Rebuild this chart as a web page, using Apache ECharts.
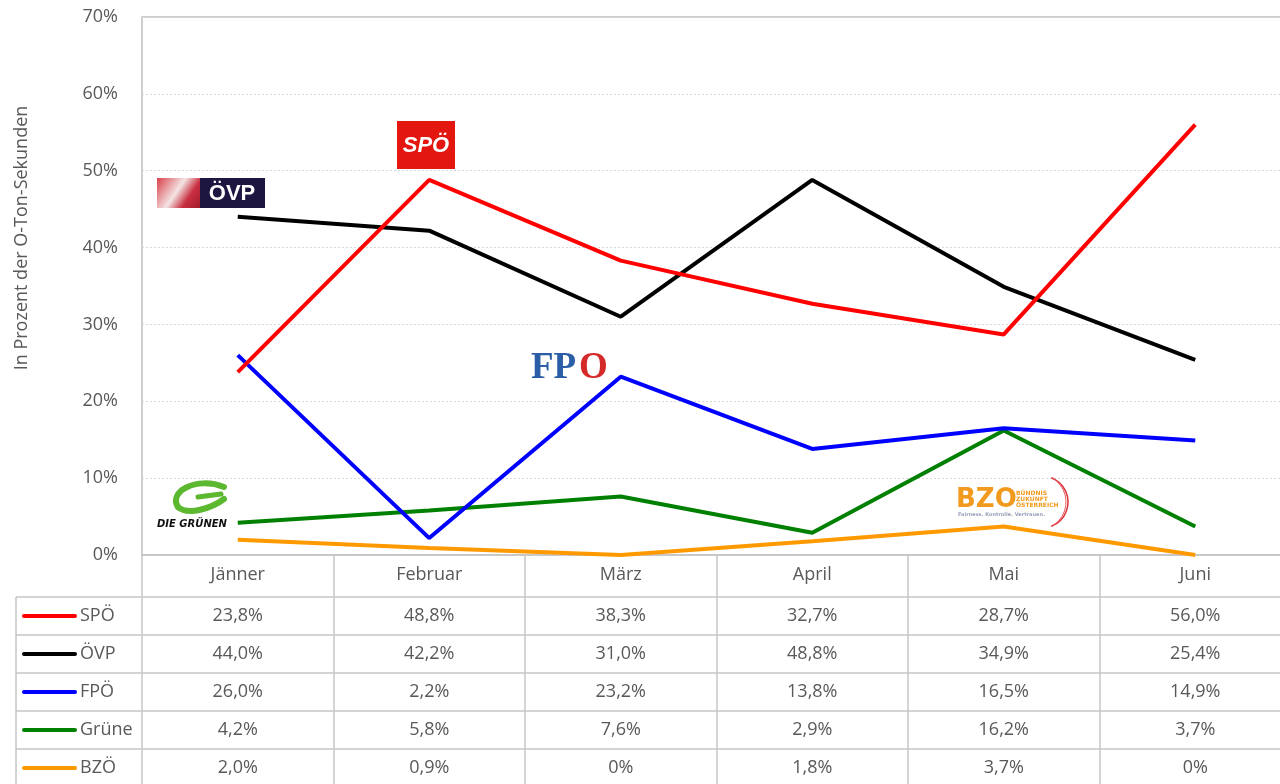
<!DOCTYPE html>
<html>
<head>
<meta charset="utf-8">
<script src="https://cdn.jsdelivr.net/npm/echarts@6/dist/echarts.min.js"></script>
<style>
  html, body { margin: 0; padding: 0; background: #fff; }
  #chart { width: 1280px; height: 784px; }
</style>
</head>
<body>
<div id="chart"></div>
<script>
// monate und werte (in prozent)
var months = ['Jänner', 'Februar', 'März', 'April', 'Mai', 'Juni'];
var parties = ['SPÖ', 'ÖVP', 'FPÖ', 'Grüne', 'BZÖ'];
var colors = ['#ff0000', '#000000', '#0000ff', '#008000', '#ff9900'];
var spoData = [23.8, 48.8, 38.3, 32.7, 28.7, 56.0];
var ovpData = [44.0, 42.2, 31.0, 48.8, 34.9, 25.4];
var fpoData = [26.0, 2.2, 23.2, 13.8, 16.5, 14.9];
var grueneData = [4.2, 5.8, 7.6, 2.9, 16.2, 3.7];
var bzoData = [2.0, 0.9, 0, 1.8, 3.7, 0];
var yTicks = [0, 10, 20, 30, 40, 50, 60, 70];

var allData = [spoData, ovpData, fpoData, grueneData, bzoData];
var textColor = '#595959';
var lineGray = '#c6c6c6';
var font = '"Open Sans", sans-serif';
var fs = 18;

function fmt(v) {
    if (v === 0) return '0%';
    return v.toFixed(1).replace('.', ',') + '%';
}

var chart = echarts.init(document.getElementById('chart'));

var series = [];
for (var i = 0; i < parties.length; i++) {
    series.push({
        name: parties[i],
        type: 'line',
        data: allData[i],
        symbol: 'none',
        z: 10 - i,
        lineStyle: { color: colors[i], width: 4 },
        itemStyle: { color: colors[i] }
    });
}

var option = {
    animation: false,
    textStyle: { fontFamily: font },
    grid: {
        left: 142, top: 17, width: 1149, bottom: 229,
        outerBoundsMode: 'none',
        show: true, borderColor: '#bfbfbf', borderWidth: 1.5
    },
    xAxis: {
        type: 'category',
        data: months,
        boundaryGap: true,
        axisLine: { lineStyle: { color: lineGray, width: 1.5 } },
        axisTick: { show: true, length: 229, lineStyle: { color: lineGray, width: 1.5 } },
        axisLabel: { color: textColor, fontSize: fs, margin: 11, fontFamily: font }
    },
    yAxis: {
        type: 'value',
        min: yTicks[0],
        max: yTicks[yTicks.length - 1],
        interval: 10,
        axisLine: { show: false },
        axisTick: { show: false },
        axisLabel: { color: textColor, fontSize: fs, margin: 24, formatter: '{value}%', fontFamily: font },
        splitLine: { lineStyle: { color: '#d9d9d9', type: [2, 2] } }
    },
    series: series
};
chart.setOption(option);

var graphics = [];

// achsentitel
graphics.push({
    type: 'text', silent: true, x: 22, y: 238, rotation: Math.PI / 2,
    style: { text: 'In Prozent der O-Ton-Sekunden', fill: textColor, font: fs + 'px ' + font, textAlign: 'center', textVerticalAlign: 'middle' }
});

// tabelle unter dem diagramm
var rowTop = 597, rowH = 38;
for (var r = 0; r <= parties.length; r++) {
    graphics.push({
        type: 'line', silent: true,
        shape: { x1: 16, y1: rowTop + r * rowH, x2: 1280, y2: rowTop + r * rowH },
        style: { stroke: lineGray, lineWidth: 1.5 }
    });
}
graphics.push({
    type: 'line', silent: true,
    shape: { x1: 16, y1: rowTop, x2: 16, y2: 784 },
    style: { stroke: lineGray, lineWidth: 1.5 }
});
for (var p = 0; p < parties.length; p++) {
    var cy = rowTop + p * rowH + rowH / 2;
    graphics.push({
        type: 'line', silent: true,
        shape: { x1: 24, y1: cy, x2: 75, y2: cy },
        style: { stroke: colors[p], lineWidth: 4, lineCap: 'round' }
    });
    graphics.push({
        type: 'text', silent: true, x: 80, y: cy,
        style: { text: parties[p], fill: textColor, font: fs + 'px ' + font, textVerticalAlign: 'middle' }
    });
    for (var m = 0; m < months.length; m++) {
        var px = chart.convertToPixel({ xAxisIndex: 0 }, months[m]);
        graphics.push({
            type: 'text', silent: true, x: px, y: cy,
            style: { text: fmt(allData[p][m]), fill: textColor, font: fs + 'px ' + font, textAlign: 'center', textVerticalAlign: 'middle' }
        });
    }
}

// logos (nachgebaut)
graphics.push(
    // SPÖ
    { type: 'rect', silent: true, shape: { x: 397, y: 121, width: 58, height: 48 }, style: { fill: '#e3170f' } },
    { type: 'text', silent: true, x: 426, y: 146, style: { text: 'SPÖ', fill: '#fff', font: 'italic bold 22px Arial, sans-serif', textAlign: 'center', textVerticalAlign: 'middle' } },
    // ÖVP
    { type: 'rect', silent: true, shape: { x: 157, y: 178, width: 44, height: 30 },
      style: { fill: new echarts.graphic.LinearGradient(0, 0, 1, 1, [
          { offset: 0, color: '#d8404a' }, { offset: 0.45, color: '#f4e4e4' }, { offset: 0.7, color: '#c83040' }, { offset: 1, color: '#a01828' }]) } },
    { type: 'rect', silent: true, shape: { x: 200, y: 178, width: 65, height: 30 }, style: { fill: '#1c1640' } },
    { type: 'text', silent: true, x: 232, y: 194, style: { text: 'ÖVP', fill: '#fff', font: 'bold 22px Arial, sans-serif', textAlign: 'center', textVerticalAlign: 'middle' } },
    // FPÖ
    { type: 'text', silent: true, x: 531, y: 368, style: { text: 'FP', fill: '#2b5ea6', font: 'bold 37px "Liberation Serif", serif', textVerticalAlign: 'middle' } },
    { type: 'text', silent: true, x: 579, y: 368, style: { text: 'O', fill: '#d42a2a', font: 'bold 37px "Liberation Serif", serif', textVerticalAlign: 'middle' } },
    // Grüne
    { type: 'bezierCurve', silent: true, shape: { x1: 224, y1: 487, cpx1: 196, cpy1: 476, cpx2: 168, cpy2: 492, x2: 178, y2: 507 }, style: { stroke: '#5cb82e', lineWidth: 6, fill: null, lineCap: 'round' } },
    { type: 'bezierCurve', silent: true, shape: { x1: 178, y1: 507, cpx1: 188, cpy1: 516, cpx2: 212, cpy2: 508, x2: 224, y2: 499 }, style: { stroke: '#5cb82e', lineWidth: 6, fill: null, lineCap: 'round' } },
    { type: 'line', silent: true, shape: { x1: 198, y1: 497, x2: 221, y2: 494 }, style: { stroke: '#5cb82e', lineWidth: 5, lineCap: 'round' } },
    { type: 'text', silent: true, x: 192, y: 524, style: { text: 'DIE GRÜNEN', fill: '#111', font: 'italic bold 10px "DejaVu Sans", sans-serif', textAlign: 'center', textVerticalAlign: 'middle' } },
    // BZÖ
    { type: 'text', silent: true, x: 956, y: 500, style: { text: 'BZO', fill: '#f29a1d', font: 'bold 26px "DejaVu Sans", sans-serif', textVerticalAlign: 'middle' } },
    { type: 'text', silent: true, x: 1016, y: 499, style: { text: 'BÜNDNIS\nZUKUNFT\nÖSTERREICH', fill: '#f29a1d', font: 'bold 6px "DejaVu Sans", sans-serif', lineHeight: 6, textVerticalAlign: 'middle' } },
    { type: 'text', silent: true, x: 958, y: 515, style: { text: 'Fairness. Kontrolle. Vertrauen.', fill: '#9aa0b8', font: 'bold 5px "DejaVu Sans", sans-serif', textVerticalAlign: 'middle' } },
    { type: 'arc', silent: true, shape: { cx: 1042, cy: 502, r: 26, startAngle: -Math.PI / 2.6, endAngle: Math.PI / 2.6 }, style: { stroke: '#d9333a', lineWidth: 1.5, fill: null } },
    { type: 'arc', silent: true, shape: { cx: 1038, cy: 502, r: 28, startAngle: -Math.PI / 3, endAngle: Math.PI / 3 }, style: { stroke: '#e8585e', lineWidth: 1, fill: null } }
);

chart.setOption({ graphic: graphics });
</script>
</body>
</html>
